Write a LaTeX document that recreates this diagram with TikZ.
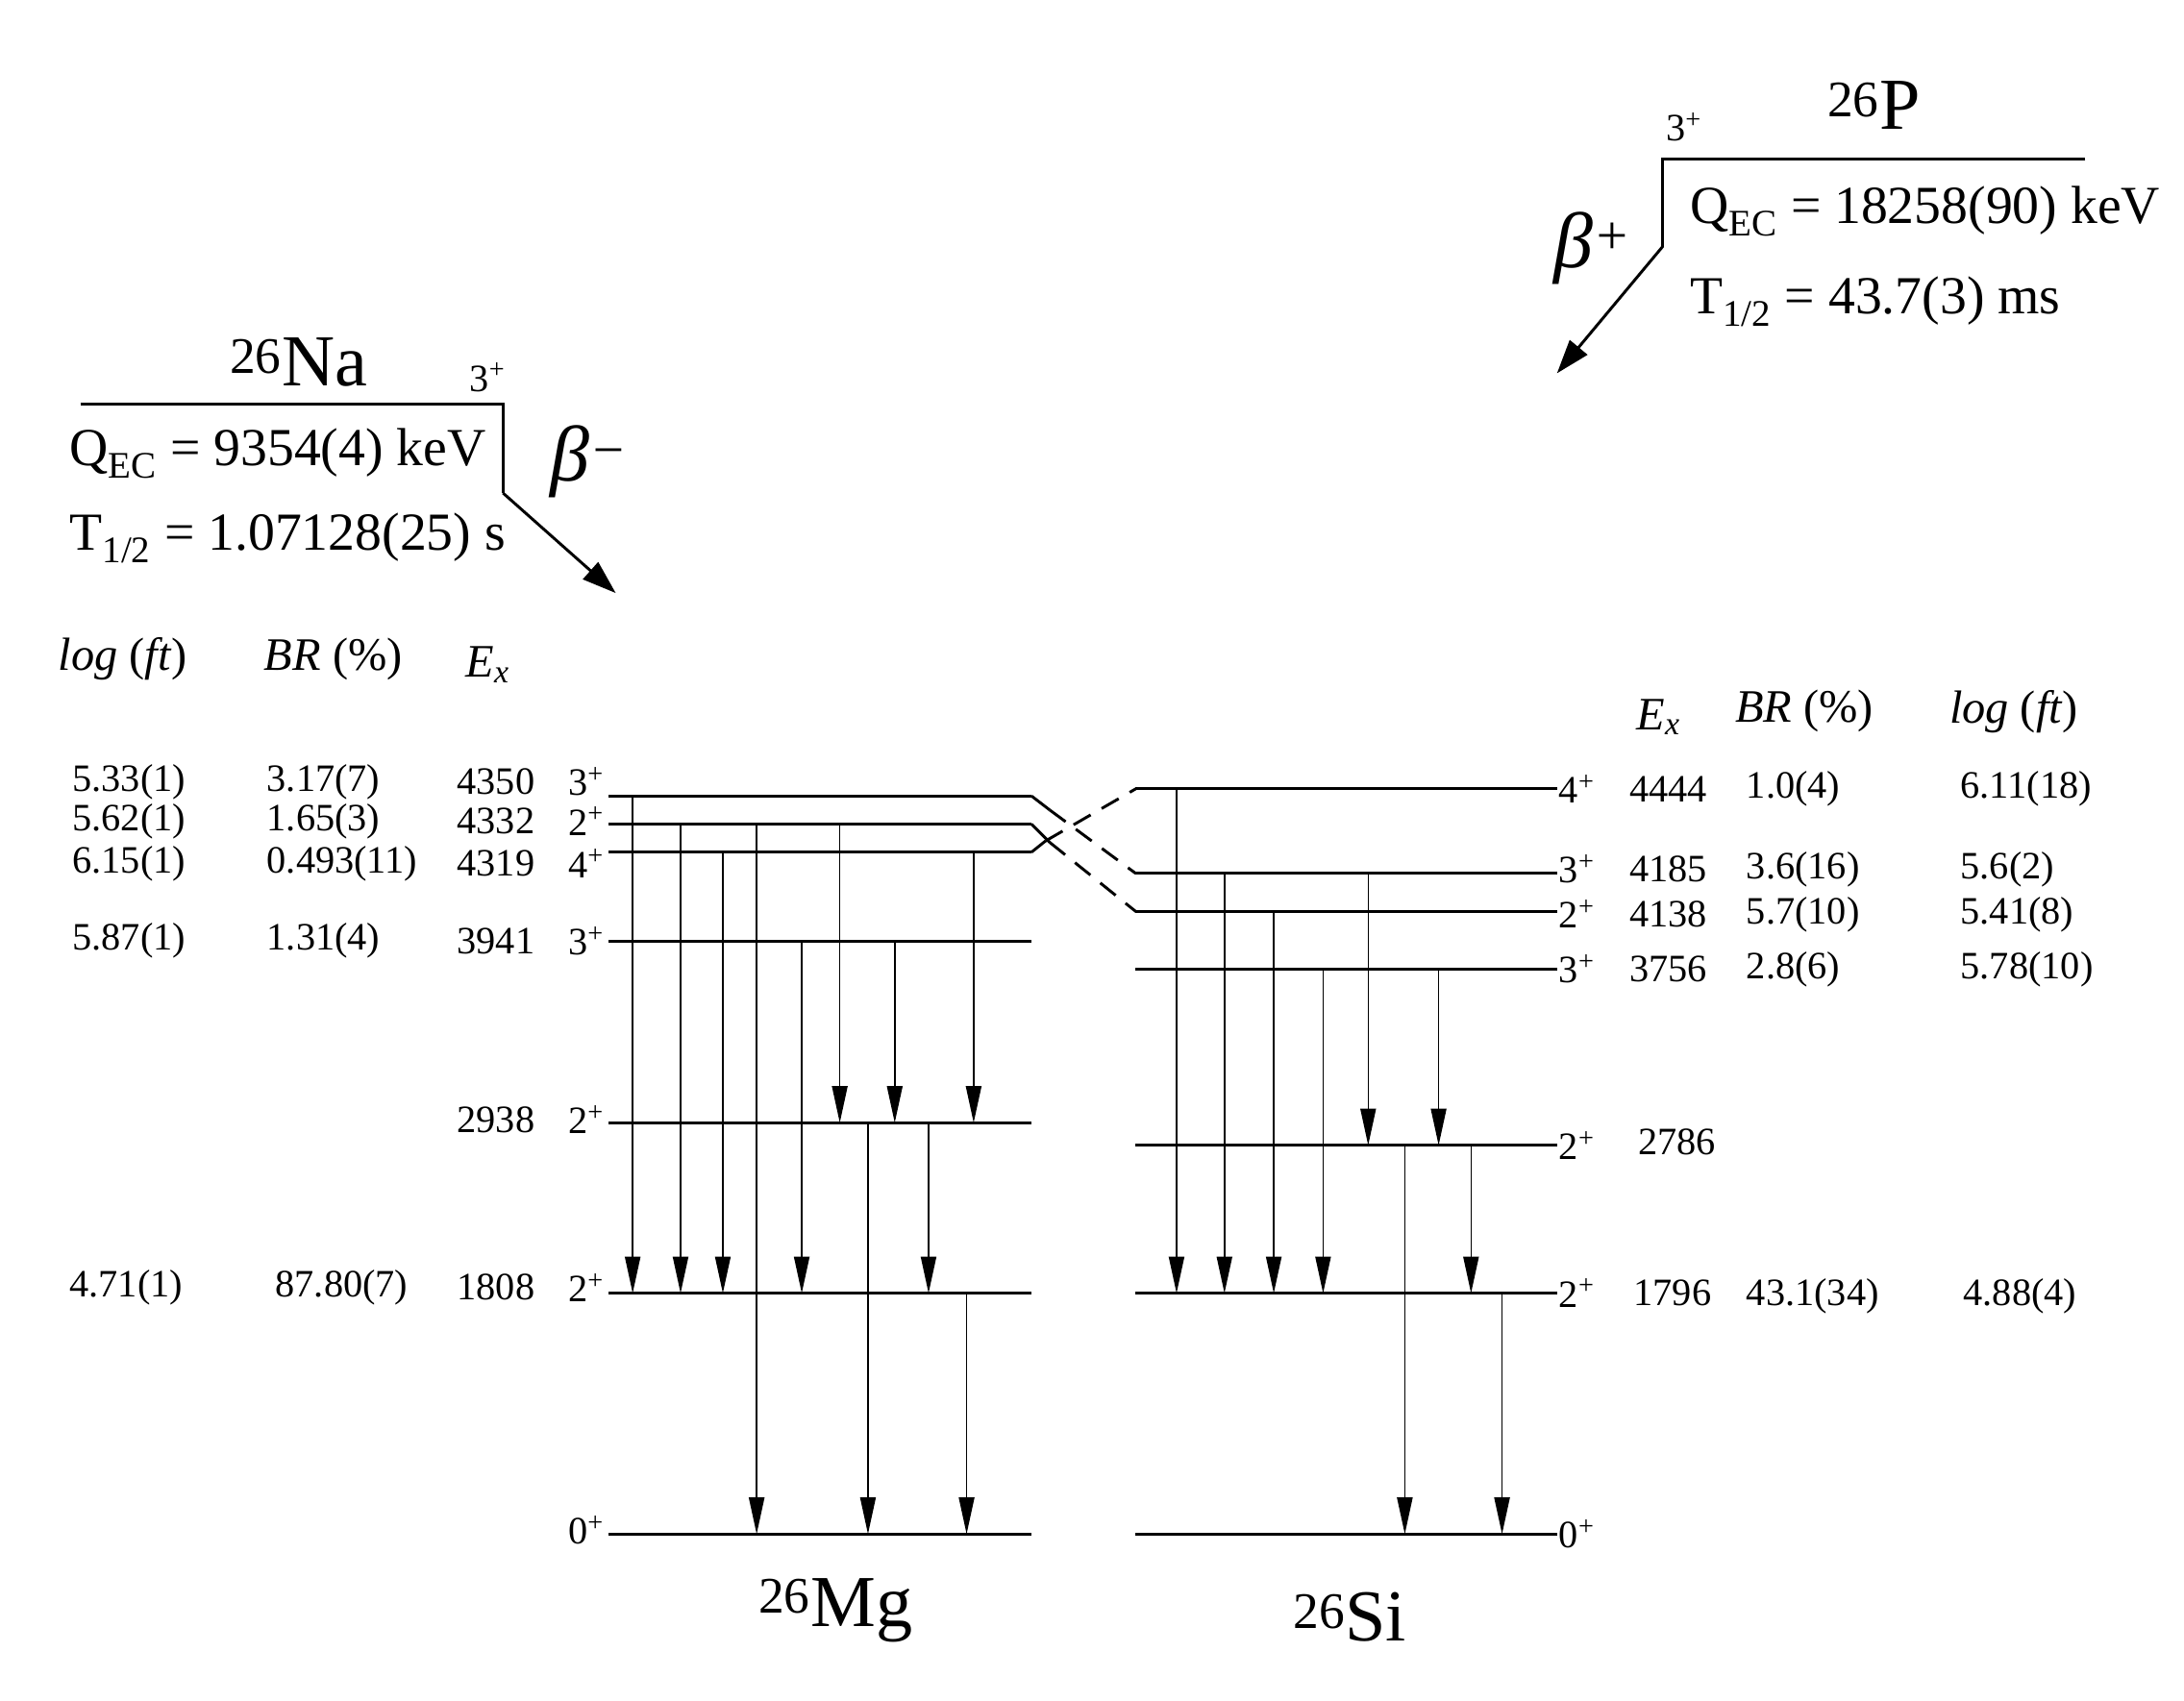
\documentclass[tikz,border=0pt]{standalone}
\usepackage{fontspec}
\setmainfont{Liberation Serif}
\usetikzlibrary{arrows.meta}
\newcommand{\spn}[1]{#1\textsuperscript{+}}
\newcommand{\Ex}{\textit{E}\textsubscript{\textit{x}}}
\begin{document}
\begin{tikzpicture}[x=1pt,y=-1pt,
 lev/.style={line width=2.2pt},
 tr/.style={line width=1pt,-{Triangle[width=11pt,length=26pt]}},
 big/.style={font=\fontsize{38}{40}\selectfont},
 sm/.style={font=\fontsize{27.5}{29}\selectfont},
 hd/.style={font=\fontsize{33}{35}\selectfont},
 ttl/.style={font=\fontsize{52}{54}\selectfont},
 bet/.style={font=\fontsize{56}{58}\selectfont\itshape}]
\useasboundingbox (0,0) rectangle (1550,1207);
\foreach \n/\y in {a/565,b/585,c/605,d/668,e/797,f/918,g/1089}{
 \coordinate (L\n1) at (432,\y); \coordinate (L\n2) at (732,\y);
 \draw[lev] (L\n1) -- (L\n2);}
\foreach \n/\y in {a/560,b/620,c/647,d/688,e/813,f/918,g/1089}{
 \coordinate (R\n1) at (806,\y); \coordinate (R\n2) at (1105,\y);
 \draw[lev] (R\n1) -- (R\n2);}
\coordinate (ka) at (745,575); \coordinate (kb) at (745,598); \coordinate (kc) at (742,597);
\draw[line width=2pt] (La2) -- (ka);
\draw[line width=2pt] (Lb2) -- (kb);
\draw[line width=2pt] (Lc2) -- (kc);
\draw[line width=2pt,dash pattern=on 14pt off 9pt] (ka) -- (Rb1);
\draw[line width=2pt,dash pattern=on 14pt off 9pt] (kb) -- (Rc1);
\draw[line width=2pt,dash pattern=on 14pt off 9pt] (kc) -- (Ra1);
\foreach \x/\a/\b in {449/565/918,483/585/918,513/605/918,537/585/1089,569/668/918,596/585/797,635/668/797,691/605/797,616/797/1089,659/797/918,686/918/1089,
 835/560/918,869/620/918,904/647/918,939/688/918,971/620/813,1021/688/813,997/813/1089,1044/813/918,1066/918/1089}{
 \coordinate (s) at (\x,\a); \coordinate (t) at (\x,\b);
 \draw[tr] (s) -- (t);}
\foreach \y/\s/\e/\br/\lf in {555/3/4350/3.17(7)/5.33(1),583/2/4332/1.65(3)/5.62(1),613/4/4319/0.493(11)/6.15(1),668/3/3941/1.31(4)/5.87(1)}{
 \node[sm,anchor=east] at (432,\y) {\spn{\s}};
 \node[sm,anchor=east] at (383,\y) {\e};
 \node[sm,anchor=west] at (186,\y) {\br};
 \node[sm,anchor=west] at (48,\y) {\lf};}
\node[sm,anchor=east] at (432,795) {\spn{2}};
\node[sm,anchor=east] at (383,795) {2938};
\node[sm,anchor=east] at (432,914) {\spn{2}};
\node[sm,anchor=east] at (383,914) {1808};
\node[sm,anchor=west] at (192,914) {87.80(7)};
\node[sm,anchor=west] at (46,914) {4.71(1)};
\node[sm,anchor=east] at (432,1086) {\spn{0}};
\node[hd,anchor=west] at (38,468) {\textit{log} (\textit{ft})};
\node[hd,anchor=west] at (184,468) {\textit{BR} (\%)};
\node[hd,anchor=west] at (327,472) {\Ex};
\foreach \y/\s/\e/\br/\lf in {560/4/4444/1.0(4)/6.11(18),617/3/4185/3.6(16)/5.6(2),649/2/4138/5.7(10)/5.41(8),688/3/3756/2.8(6)/5.78(10)}{
 \node[sm,anchor=west] at (1103,\y) {\spn{\s}};
 \node[sm,anchor=west] at (1153,\y) {\e};
 \node[sm,anchor=west] at (1236,\y) {\br};
 \node[sm,anchor=west] at (1388,\y) {\lf};}
\node[sm,anchor=west] at (1103,813) {\spn{2}};
\node[sm,anchor=west] at (1159,811) {2786};
\node[sm,anchor=west] at (1103,918) {\spn{2}};
\node[sm,anchor=west] at (1156,918) {1796};
\node[sm,anchor=west] at (1236,920) {43.1(34)};
\node[sm,anchor=west] at (1390,920) {4.88(4)};
\node[sm,anchor=west] at (1103,1089) {\spn{0}};
\node[hd,anchor=west] at (1158,509) {\Ex};
\node[hd,anchor=west] at (1228,505) {\textit{BR} (\%)};
\node[hd,anchor=west] at (1380,505) {\textit{log} (\textit{ft})};
\coordinate (na1) at (57,287); \coordinate (na2) at (357,287); \coordinate (na3) at (357,350); \coordinate (na4) at (437,421);
\draw[line width=2pt] (na1) -- (na2) -- (na3);
\draw[line width=2pt,-{Triangle[width=16pt,length=24pt]}] (na3) -- (na4);
\node[ttl] at (212,257) {\textsuperscript{26}Na};
\node[sm] at (346,268) {\spn{3}};
\node[big,anchor=west] at (46,322) {Q\textsubscript{EC} = 9354(4) keV};
\node[big,anchor=west] at (46,382) {T\textsubscript{1/2} = 1.07128(25) s};
\node[bet] at (418,328) {β\textsuperscript{−}};
\coordinate (p1) at (1180,113); \coordinate (p2) at (1480,113); \coordinate (p3) at (1180,175); \coordinate (p4) at (1105,265);
\draw[line width=2pt] (p2) -- (p1) -- (p3);
\draw[line width=2pt,-{Triangle[width=16pt,length=24pt]}] (p3) -- (p4);
\node[ttl] at (1330,75) {\textsuperscript{26}P};
\node[sm] at (1195,90) {\spn{3}};
\node[big,anchor=west] at (1196,150) {Q\textsubscript{EC} = 18258(90) keV};
\node[big,anchor=west] at (1196,214) {T\textsubscript{1/2} = 43.7(3) ms};
\node[bet] at (1130,176) {β\textsuperscript{+}};
\node[ttl] at (593,1143) {\textsuperscript{26}Mg};
\node[ttl] at (958,1148) {\textsuperscript{26}Si};
\end{tikzpicture}
\end{document}
